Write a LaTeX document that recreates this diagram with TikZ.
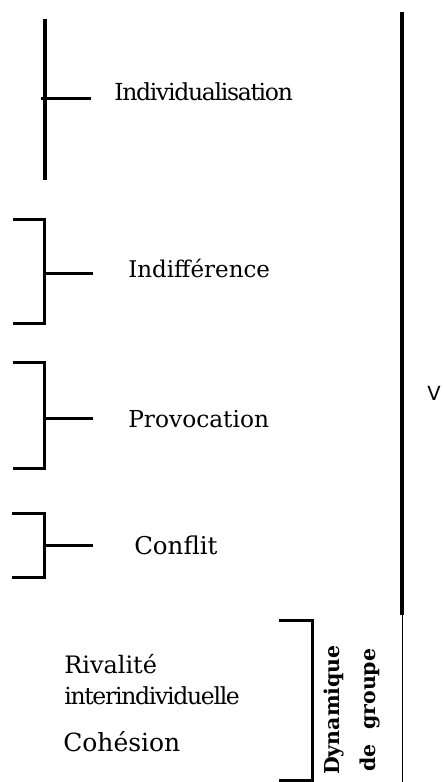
\documentclass[tikz,border=0pt]{standalone}
\usepackage{fontspec}
\setmainfont{DejaVu Serif}
\setsansfont{DejaVu Sans}
\newfontfamily\tightserif[LetterSpace=-5.5]{DejaVu Serif}
\tikzset{every picture/.style={line width=3pt}}
\tikzset{lbl/.style={anchor=west,inner sep=0.75pt,font=\fontsize{#1}{#1}\selectfont},
  lbl/.default=21,
  tightlbl/.style={anchor=west,inner sep=0.75pt,font=\tightserif\fontsize{23.5}{24}\selectfont},
  grp/.style={rotate=90,inner sep=0.75pt,font=\fontsize{20.5}{22}\selectfont\bfseries}}

\begin{document}
\begin{tikzpicture}[x=1pt,y=1pt,yscale=-1,xscale=1]
\useasboundingbox (0,0) rectangle (442,782);

%Coordinates of the brackets
\coordinate (indivTop) at (45,19);
\coordinate (indivBot) at (45,180);
\coordinate (indivTick) at (41,98);
\coordinate (indivEnd) at (91,98);
\coordinate (indifTick) at (44,273);
\coordinate (indifEnd) at (93,273);
\coordinate (provTick) at (44,418);
\coordinate (provEnd) at (93,418);
\coordinate (confTick) at (44,545);
\coordinate (confEnd) at (93,545);
\coordinate (axisTop) at (402,12);
\coordinate (axisMid) at (402,615);
\coordinate (axisBot) at (402,782);

%Straight Lines
\draw [line width=3.5pt] (indivTop) -- (indivBot) ;
\draw (indivTick) -- (indivEnd) ;
%Brackets
\draw (13,219) -- (44,219) -- (44,323) -- (13,323) ;
\draw (indifTick) -- (indifEnd) ;
\draw (13,362) -- (44,362) -- (44,468) -- (13,468) ;
\draw (provTick) -- (provEnd) ;
\draw (12,513) -- (44,513) -- (44,577) -- (12,577) ;
\draw (confTick) -- (confEnd) ;
\draw (279,620) -- (312,620) -- (312,780) -- (279,780) ;
%Right axis
\draw [line width=3.5pt] (axisTop) -- (axisMid) ;
\draw [line width=0.8pt] (axisMid) -- (axisBot) ;

% Text Node
\node [tightlbl] (individualisation) at (112,92) {Individualisation};
% Text Node
\node [lbl=23] (indifference) at (126,268) {Indifférence};
% Text Node
\node [lbl=23.3] (provocation) at (126,419) {Provocation};
% Text Node
\node [lbl=24.5] (conflit) at (132,545) {Conflit};
% Text Node
\node [lbl=24] (rivalite) at (62,664) {Rivalité};
% Text Node
\node [tightlbl] (interindiv) at (62,696) {interindividuelle};
% Text Node
\node [lbl=25] (cohesion) at (61,742) {Cohésion};
% Text Node
\node [grp] (dynamique) at (334,710) {Dynamique};
% Text Node
\node [grp] (degroupe) at (370,710) {de\hspace{0.7em}groupe};
% Text Node
\node [inner sep=0.75pt,font=\sffamily\fontsize{19.5}{21}\selectfont] (v) at (434,393) {V};

\end{tikzpicture}
\end{document}
